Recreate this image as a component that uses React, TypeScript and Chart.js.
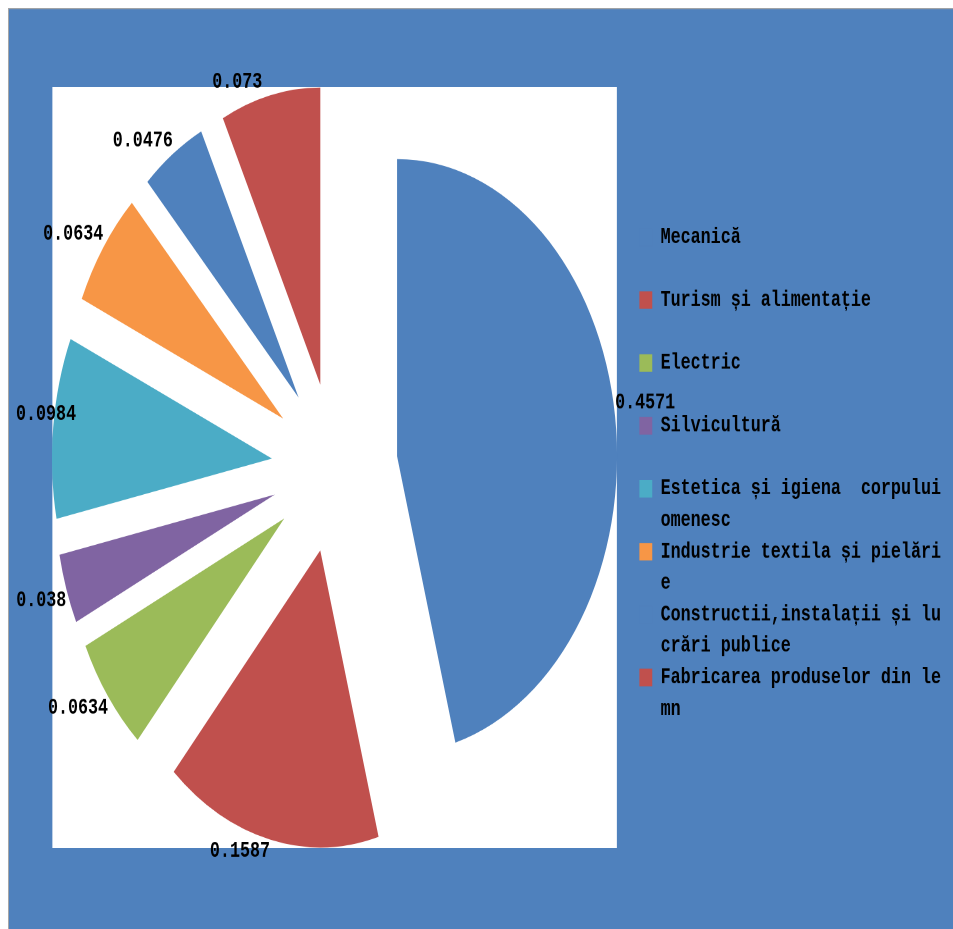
import React, { useEffect, useRef } from "react";
import { Chart, registerables } from "chart.js";

Chart.register(...registerables);

// ---- data ----
const categories = [
  "Mecanică",
  "Turism și alimentație",
  "Electric",
  "Silvicultură",
  "Estetica și igiena  corpului omenesc",
  "Industrie textila și pielărie",
  "Constructii,instalații și lucrări publice",
  "Fabricarea produselor din lemn",
];
// legend text as wrapped in the original picture
const legendLines = [
  ["Mecanică", ""],
  ["Turism și alimentație", ""],
  ["Electric", ""],
  ["Silvicultură", ""],
  ["Estetica și igiena  corpului", "omenesc"],
  ["Industrie textila și pielări", "e"],
  ["Constructii,instalații și lu", "crări publice"],
  ["Fabricarea produselor din le", "mn"],
];
const shares = [0.4571, 0.1587, 0.0634, 0.038, 0.0984, 0.0634, 0.0476, 0.073];
const colors = ["#4F81BD", "#C0504D", "#9BBB59", "#8064A2", "#4BACC6", "#F79646", "#4F81BD", "#C0504D"];

// ---- styles ----
const W = 945;
const H = 682;
const OUT_H = 921;
const STRETCH = OUT_H / H;
const EXPLODE = 63;
const RADIUS = 220;
const FONT = "'Liberation Mono', 'DejaVu Sans Mono', monospace";
const FONT_SIZE = 16.7;
const BG = "#4F81BD";

const backgroundPlugin = {
  id: "bgPlot",
  beforeDraw(chart: any) {
    const { ctx, width, height, chartArea: a } = chart;
    ctx.save();
    ctx.fillStyle = BG;
    ctx.fillRect(0, 0, width, height);
    ctx.fillStyle = "#a6a6a6";
    ctx.fillRect(0, 0, width, 0.8);
    ctx.fillRect(0, 0, 1, height);
    const side = a.bottom - a.top;
    const cx = (a.left + a.right) / 2;
    ctx.fillStyle = "#FFFFFF";
    ctx.fillRect(cx - side / 2 - 0.5, a.top, side + 1, side);
    ctx.restore();
  },
};

const explodePlugin = {
  id: "explode",
  beforeDatasetDraw(chart: any, args: any) {
    const meta = chart.getDatasetMeta(args.index);
    const ctx = chart.ctx;
    meta.data.forEach((arc: any) => {
      const { startAngle, endAngle } = arc.getProps(["startAngle", "endAngle"], true);
      const mid = (startAngle + endAngle) / 2;
      ctx.save();
      ctx.translate(Math.cos(mid) * EXPLODE, Math.sin(mid) * EXPLODE);
      arc.draw(ctx);
      ctx.restore();
    });
    return false;
  },
};

const valueLabelPlugin = {
  id: "valueLabels",
  afterDatasetsDraw(chart: any) {
    const meta = chart.getDatasetMeta(0);
    const ctx = chart.ctx;
    ctx.save();
    ctx.font = `bold ${FONT_SIZE}px ${FONT}`;
    ctx.fillStyle = "#000";
    ctx.textBaseline = "middle";
    ctx.textAlign = "left";
    meta.data.forEach((arc: any, i: number) => {
      const { x, y, startAngle, endAngle, outerRadius } = arc.getProps(
        ["x", "y", "startAngle", "endAngle", "outerRadius"],
        true
      );
      const mid = (startAngle + endAngle) / 2;
      const dx = Math.cos(mid);
      const dy = Math.sin(mid);
      const px = x + dx * (outerRadius + EXPLODE);
      const py = y + dy * (outerRadius + EXPLODE);
      const text = String(chart.data.datasets[0].data[i]);
      const w = ctx.measureText(text).width;
      let left = dx >= 0 ? px : px - w;
      if (Math.abs(dx) < 0.3 && dy < 0) left -= 8;
      left = Math.max(8, left);
      const ty = dy < 0 ? py - 10 : py + 8.5;
      ctx.fillText(text, left, ty);
    });
    ctx.restore();
  },
};

export default function App() {
  const ref = useRef<HTMLCanvasElement>(null);

  useEffect(() => {
    const body = document.body;
    const prevMargin = body.style.margin;
    body.style.margin = "8px 0 0 8px";
    if (!ref.current) return;
    const chart = new Chart(ref.current, {
      type: "pie",
      data: {
        labels: categories,
        datasets: [
          {
            data: shares,
            backgroundColor: colors,
            borderWidth: 0,
            hoverOffset: 0,
            offset: 0,
          },
        ],
      },
      options: {
        responsive: false,
        animation: false,
        devicePixelRatio: 2,
        events: [],
        radius: RADIUS,
        layout: { padding: { left: 22, right: 2, top: 58.5, bottom: 60 } },
        plugins: {
          tooltip: { enabled: false },
          legend: {
            position: "right",
            title: {
              display: true,
              text: "",
              padding: { top: 4.8, bottom: 0 },
              font: { size: 10, lineHeight: 1 },
            },
            labels: {
              boxWidth: 13,
              boxHeight: 13,
              padding: 0,
              color: "#000",
              font: { family: FONT, size: FONT_SIZE, weight: "bold", lineHeight: 1.395 },
              generateLabels: () =>
                legendLines.map((lines, i) => ({
                  text: lines as any,
                  fillStyle: colors[i],
                  strokeStyle: colors[i],
                  lineWidth: 0,
                  hidden: false,
                  index: i,
                  fontColor: "#000",
                })),
            },
          },
        },
      } as any,
      plugins: [backgroundPlugin, explodePlugin, valueLabelPlugin],
    });
    return () => {
      chart.destroy();
      body.style.margin = prevMargin;
    };
  }, []);

  return (
    <div style={{ width: W, height: OUT_H, overflow: "hidden" }}>
      <div
        style={{
          width: W,
          height: H,
          transform: `scaleY(${STRETCH})`,
          transformOrigin: "0 0",
        }}
      >
        <canvas ref={ref} width={W} height={H} />
      </div>
    </div>
  );
}
